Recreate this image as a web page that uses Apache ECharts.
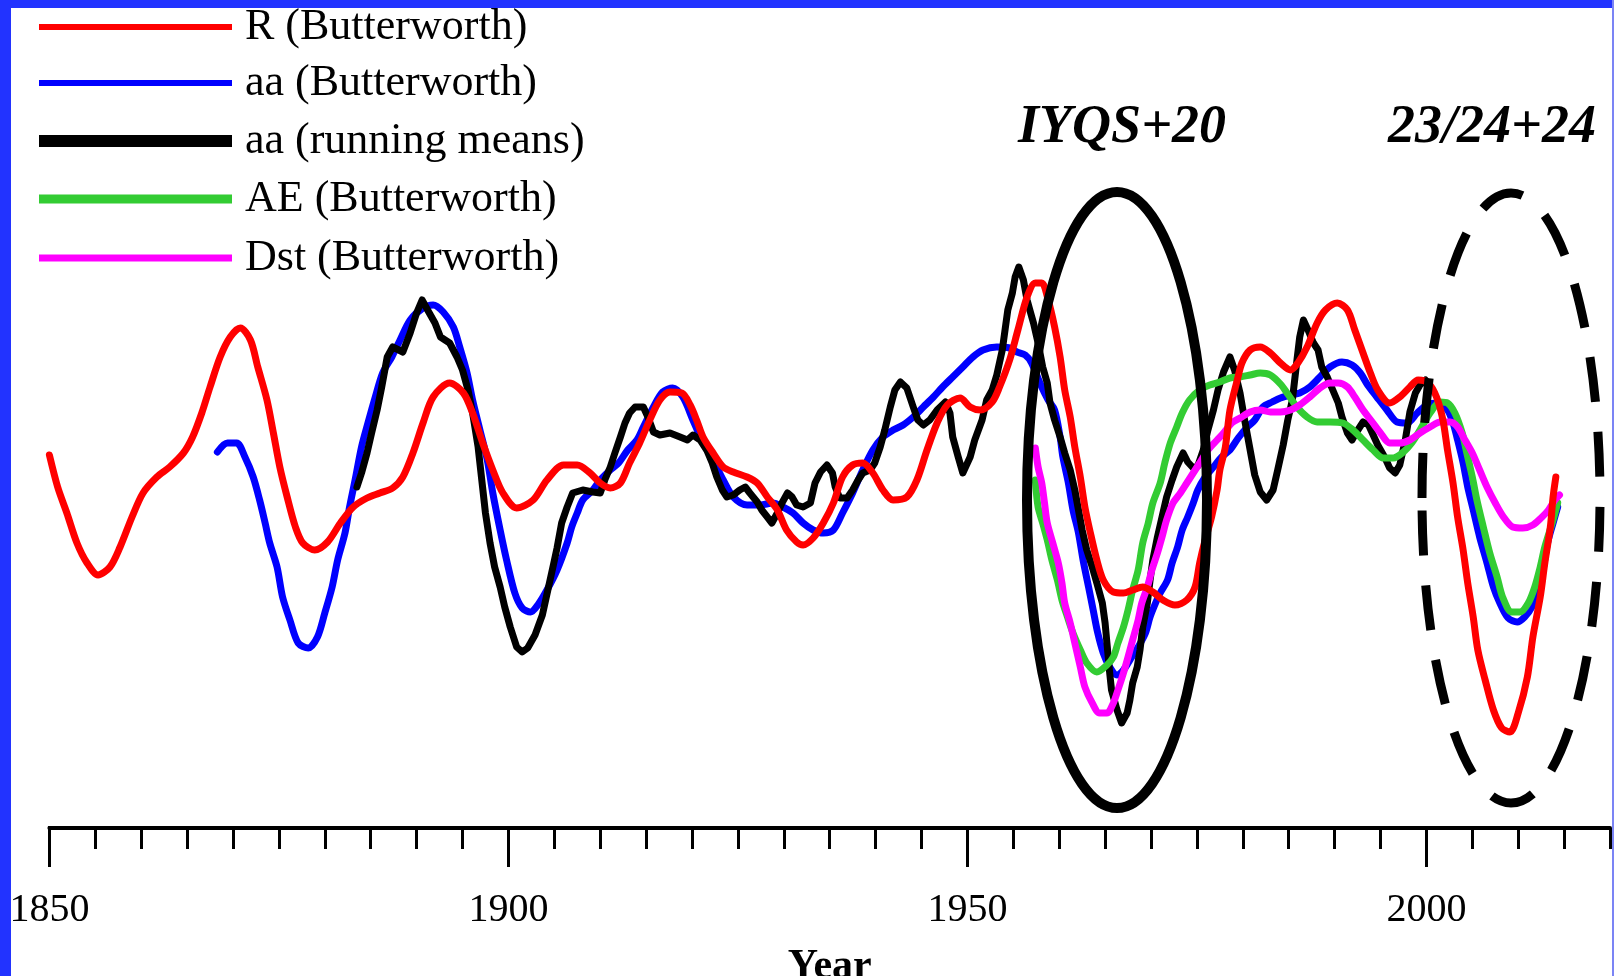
<!DOCTYPE html>
<html>
<head>
<meta charset="utf-8">
<script src="https://cdn.jsdelivr.net/npm/echarts@6/dist/echarts.min.js"></script>
<style>
html,body{margin:0;padding:0;background:#fff;}
#chart{width:1614px;height:976px;}
</style>
</head>
<body>
<div id="chart"></div>
<script>
// ---- Data: [year, value] (arbitrary normalized units) ----
const R_BUTTERWORTH = [
[1850.0,37.1],[1850.9,33.9],[1851.9,31.3],[1853.0,28.3],[1854.1,26.3],[1855.3,25.1],[1856.6,25.9],[1857.7,27.9],
[1859.0,30.9],[1860.2,33.3],[1861.7,34.9],[1863.1,35.9],[1864.6,37.3],[1865.6,38.9],[1866.6,41.3],[1867.5,43.9],
[1868.6,46.9],[1869.7,48.9],[1870.8,49.8],[1871.9,48.6],[1872.7,45.9],[1873.7,42.6],[1874.4,39.3],[1875.1,35.9],
[1875.9,32.9],[1876.8,29.9],[1877.6,28.3],[1878.9,27.6],[1880.3,28.4],[1881.7,30.3],[1883.1,31.9],[1884.6,32.8],
[1886.0,33.3],[1887.4,33.8],[1888.5,34.9],[1889.6,37.3],[1890.7,40.3],[1891.8,42.9],[1893.6,44.3],[1895.1,43.3],
[1896.1,41.3],[1897.2,38.3],[1898.3,35.6],[1899.4,33.3],[1900.9,31.8],[1902.7,32.6],[1904.2,34.6],[1906.0,36.1],
[1907.5,36.1],[1908.9,35.3],[1910.0,34.3],[1911.1,33.8],[1912.2,34.3],[1913.2,36.3],[1914.3,38.3],[1915.4,40.6],
[1916.5,42.6],[1917.6,43.4],[1918.9,43.3],[1919.8,42.1],[1920.5,40.6],[1921.2,38.9],[1922.3,37.3],[1923.4,35.9],
[1924.5,35.4],[1926.0,34.9],[1927.1,34.3],[1928.2,32.9],[1929.3,31.6],[1930.3,29.6],[1931.4,28.4],[1932.1,28.1],
[1933.2,28.8],[1934.3,30.3],[1935.4,32.3],[1936.4,34.9],[1937.5,36.1],[1938.6,36.3],[1939.7,35.3],[1940.8,33.6],
[1941.9,32.6],[1943.4,32.9],[1944.5,34.6],[1945.6,37.6],[1946.7,40.3],[1947.8,42.1],[1949.2,42.8],[1950.3,41.9],
[1951.4,41.6],[1952.7,42.4],[1953.5,43.9],[1954.6,46.6],[1955.5,49.6],[1956.5,52.9],[1957.4,54.3],[1958.1,54.3],
[1958.8,52.6],[1959.5,49.9],[1960.1,46.9],[1960.6,43.6],[1961.2,40.9],[1961.7,37.9],[1962.3,34.9],[1962.8,31.9],
[1963.4,29.3],[1964.1,26.6],[1964.8,24.6],[1965.9,23.4],[1967.0,23.3],[1968.0,23.6],[1969.1,23.9],[1970.2,23.4],
[1971.3,22.6],[1972.6,22.1],[1973.9,22.6],[1974.8,23.9],[1975.3,26.3],[1975.9,28.6],[1976.6,30.9],[1977.2,33.6],
[1977.5,35.6],[1978.1,37.9],[1978.6,41.6],[1979.4,44.6],[1979.9,46.3],[1980.8,47.6],[1981.9,47.9],[1983.0,47.3],
[1984.1,46.3],[1985.2,45.6],[1986.0,46.3],[1987.0,47.9],[1988.1,50.3],[1989.0,51.6],[1990.3,52.3],[1991.4,51.6],
[1992.2,49.6],[1993.1,47.3],[1993.9,45.3],[1994.7,43.6],[1996.0,42.3],[1997.1,42.9],[1998.2,43.9],[1999.1,44.6],
[2000.2,44.3],[2001.1,42.9],[2001.8,40.6],[2002.3,37.6],[2002.9,34.3],[2003.4,30.9],[2004.0,27.6],[2004.5,24.3],
[2005.1,20.9],[2005.6,17.6],[2006.4,14.6],[2007.3,11.6],[2008.2,9.8],[2009.1,9.4],[2010.0,11.3],[2011.0,14.9],
[2011.6,18.9],[2012.4,22.9],[2012.9,26.3],[2013.5,29.9],[2013.8,32.9],[2014.1,34.9]
];

const AA_BUTTERWORTH = [
[1868.3,37.4],[1869.4,38.3],[1870.4,38.3],[1871.3,36.9],[1872.2,34.9],[1872.9,32.6],[1873.5,30.3],[1874.0,28.3],
[1874.8,25.9],[1875.4,22.9],[1876.2,20.6],[1877.1,18.3],[1878.2,17.8],[1879.2,18.9],[1880.0,21.3],[1880.8,23.9],
[1881.4,26.6],[1882.2,29.3],[1882.7,31.9],[1883.3,34.6],[1884.0,37.9],[1884.7,40.3],[1885.5,42.9],[1886.3,45.3],
[1887.3,46.9],[1888.2,48.6],[1889.3,50.6],[1890.7,51.8],[1891.8,52.1],[1892.9,51.4],[1894.0,49.9],[1894.7,47.9],
[1895.5,45.3],[1896.1,42.6],[1896.9,39.6],[1897.7,36.6],[1898.3,33.3],[1899.1,29.6],[1899.8,26.6],[1900.7,23.3],
[1901.5,21.8],[1902.4,21.4],[1903.2,22.1],[1904.2,23.6],[1905.3,25.6],[1906.4,28.3],[1906.9,29.9],[1907.5,31.3],
[1908.1,32.6],[1909.2,33.6],[1910.0,34.6],[1911.1,35.6],[1912.0,36.3],[1913.0,37.6],[1914.0,38.6],[1914.7,39.9],
[1915.8,41.9],[1916.8,43.4],[1917.9,43.8],[1919.0,42.9],[1920.1,40.6],[1921.2,38.3],[1922.3,36.6],[1923.4,34.6],
[1924.5,32.9],[1926.0,32.1],[1927.4,32.1],[1928.8,32.3],[1929.9,31.9],[1931.0,31.3],[1932.1,30.3],[1933.2,29.6],
[1934.3,29.3],[1935.4,29.6],[1936.4,31.3],[1937.5,33.3],[1938.6,35.6],[1939.7,37.6],[1940.8,38.9],[1941.9,39.6],
[1943.0,40.1],[1944.1,40.9],[1945.2,41.9],[1946.3,42.9],[1947.3,43.9],[1948.4,44.9],[1949.5,45.9],[1950.6,46.9],
[1951.7,47.6],[1953.2,47.9],[1954.6,47.8],[1955.4,47.4],[1956.3,47.1],[1957.0,46.3],[1957.9,44.3],[1958.8,42.6],
[1959.5,41.6],[1960.1,38.9],[1960.4,36.9],[1961.0,34.3],[1961.5,31.6],[1962.1,29.3],[1962.6,26.6],[1963.2,23.9],
[1963.7,21.6],[1964.2,19.3],[1964.8,17.3],[1965.5,15.9],[1966.3,15.1],[1967.0,15.6],[1967.7,16.6],[1968.6,17.9],
[1969.4,19.3],[1969.9,20.9],[1970.5,22.3],[1971.0,23.3],[1971.8,24.6],[1972.3,26.3],[1972.9,27.9],[1973.4,29.6],
[1974.0,30.9],[1974.6,32.3],[1975.1,33.6],[1975.9,34.9],[1976.8,35.9],[1977.7,36.9],[1978.6,37.6],[1979.5,38.8],
[1980.5,39.9],[1981.3,40.6],[1982.2,41.9],[1983.2,42.4],[1984.1,42.8],[1985.2,43.1],[1986.2,43.3],[1987.3,43.9],
[1988.4,44.9],[1989.5,45.9],[1990.8,46.4],[1991.9,46.1],[1992.8,45.3],[1993.6,44.1],[1994.6,42.9],[1995.7,41.6],
[1996.8,40.4],[1997.9,40.3],[1999.0,41.3],[2000.1,42.1],[2001.2,42.3],[2002.3,41.6],[2002.9,40.3],[2003.4,38.6],
[2004.0,36.3],[2004.5,33.9],[2005.1,31.6],[2005.8,28.9],[2006.6,26.3],[2007.3,23.9],[2008.0,22.3],[2008.9,20.8],
[2009.9,20.4],[2010.7,20.9],[2011.5,21.9],[2012.2,23.6],[2012.7,25.6],[2013.2,28.3],[2013.8,30.3],[2014.3,31.9]
];

const AA_RUNNING_MEANS = [
[1883.5,33.9],[1884.0,35.3],[1884.6,37.3],[1885.1,39.3],[1885.7,41.6],[1886.2,43.9],[1886.8,46.9],[1887.4,47.9],
[1888.5,47.4],[1889.3,49.3],[1890.0,51.3],[1890.6,52.6],[1891.2,51.6],[1892.0,50.3],[1892.6,48.9],[1893.6,48.3],
[1894.4,46.9],[1895.0,45.6],[1895.6,43.6],[1896.1,41.3],[1896.7,37.9],[1897.1,34.6],[1897.5,31.3],[1898.0,28.3],
[1898.5,25.9],[1899.1,23.9],[1899.6,21.9],[1900.2,19.9],[1900.9,17.9],[1901.5,17.4],[1902.1,17.8],[1902.9,19.1],
[1903.7,21.1],[1904.3,23.6],[1904.9,26.1],[1905.3,27.8],[1905.8,30.3],[1906.4,31.9],[1907.0,33.3],[1908.1,33.6],
[1909.2,33.4],[1910.0,33.3],[1910.5,34.6],[1911.1,35.9],[1911.6,37.3],[1912.2,38.9],[1912.7,40.3],[1913.2,41.3],
[1913.8,41.9],[1914.7,41.9],[1915.2,40.9],[1915.8,39.4],[1916.5,39.1],[1917.6,39.3],[1918.7,38.9],[1919.5,38.6],
[1920.1,39.1],[1920.9,38.6],[1921.6,37.6],[1922.2,36.3],[1922.7,34.9],[1923.3,33.6],[1923.8,32.9],[1924.5,33.1],
[1925.2,33.6],[1925.8,33.9],[1926.3,33.3],[1927.1,32.4],[1927.6,31.6],[1928.2,30.9],[1928.7,30.3],[1929.3,31.3],
[1929.8,32.3],[1930.4,33.3],[1930.9,32.9],[1931.4,32.1],[1932.1,31.9],[1932.9,32.3],[1933.4,34.3],[1934.0,35.4],
[1934.7,36.1],[1935.3,35.3],[1935.6,33.9],[1936.1,32.8],[1936.9,32.8],[1937.5,33.6],[1938.1,34.6],[1938.6,35.3],
[1939.4,35.6],[1939.9,36.3],[1940.5,37.9],[1941.0,39.6],[1941.6,41.9],[1942.1,43.6],[1942.7,44.4],[1943.4,43.8],
[1944.1,41.9],[1944.6,40.6],[1945.2,40.1],[1945.9,40.6],[1946.7,41.6],[1947.6,42.4],[1948.1,41.3],[1948.4,38.9],
[1949.0,36.9],[1949.5,35.3],[1950.3,36.9],[1950.8,38.6],[1951.6,40.6],[1952.1,42.6],[1952.7,43.6],[1953.2,45.1],
[1953.8,47.6],[1954.1,49.6],[1954.4,51.6],[1954.9,53.3],[1955.2,54.9],[1955.6,55.9],[1956.1,54.6],[1956.5,52.6],
[1956.8,51.6],[1957.2,50.3],[1957.7,48.3],[1958.2,45.9],[1958.7,44.3],[1959.0,42.3],[1959.5,40.6],[1960.1,38.9],
[1960.6,37.3],[1961.2,35.6],[1961.7,33.6],[1962.1,31.6],[1962.5,29.6],[1963.0,27.6],[1963.6,25.9],[1964.1,24.3],
[1964.7,22.3],[1965.0,20.3],[1965.2,18.3],[1965.5,15.3],[1965.7,13.6],[1966.3,11.6],[1966.8,10.3],[1967.4,11.3],
[1967.7,12.6],[1968.0,14.3],[1968.5,15.9],[1968.8,17.6],[1969.1,19.9],[1969.6,22.3],[1969.9,24.6],[1970.2,26.6],
[1970.7,28.9],[1971.2,30.9],[1971.7,32.9],[1972.3,34.6],[1972.8,35.9],[1973.5,37.3],[1974.0,36.4],[1974.6,35.8],
[1975.1,36.0],[1975.7,37.6],[1976.2,39.6],[1976.8,41.6],[1977.3,43.6],[1977.9,45.4],[1978.6,46.9],[1979.1,45.6],
[1979.7,43.3],[1980.2,40.6],[1980.8,37.6],[1981.3,35.1],[1981.9,33.4],[1982.6,32.6],[1983.3,33.6],[1983.8,35.6],
[1984.4,38.1],[1984.9,40.6],[1985.4,42.6],[1985.9,46.6],[1986.2,48.9],[1986.6,50.6],[1987.1,49.6],[1987.7,48.3],
[1988.2,47.6],[1988.6,45.9],[1989.2,44.9],[1989.8,43.6],[1990.4,42.3],[1990.8,40.9],[1991.4,39.3],[1991.9,38.6],
[1992.4,39.4],[1993.1,40.4],[1993.7,40.1],[1994.2,39.1],[1994.7,38.1],[1995.5,36.8],[1996.0,35.8],[1996.6,35.3],
[1997.1,36.1],[1997.7,38.6],[1998.2,41.4],[1998.8,43.3],[1999.3,44.1],[1999.9,44.6]
];

const AE_BUTTERWORTH = [
[1957.4,34.6],[1957.7,31.9],[1958.2,30.3],[1958.7,28.6],[1959.2,26.6],[1959.8,24.6],[1960.3,22.6],[1960.9,20.9],
[1961.5,19.3],[1962.3,17.6],[1963.0,16.3],[1964.1,15.4],[1965.2,16.1],[1965.9,16.9],[1966.4,18.3],[1967.0,19.9],
[1967.5,21.6],[1968.0,23.6],[1968.6,25.6],[1969.1,28.3],[1969.7,30.3],[1970.2,32.3],[1971.0,34.3],[1971.5,36.3],
[1972.1,38.3],[1972.8,39.9],[1973.4,41.3],[1974.2,42.6],[1975.3,43.6],[1976.4,44.1],[1977.5,44.4],[1978.6,44.8],
[1979.7,44.9],[1980.8,45.1],[1981.9,45.3],[1983.0,45.1],[1984.1,44.2],[1984.9,43.2],[1985.9,41.9],[1987.0,40.9],
[1988.1,40.4],[1989.5,40.4],[1990.9,40.3],[1992.0,39.6],[1993.1,38.6],[1994.2,37.6],[1995.3,36.8],[1996.4,36.8],
[1997.5,37.4],[1998.4,38.3],[1999.3,39.6],[2000.4,41.3],[2001.5,42.4],[2002.3,42.3],[2003.1,41.3],[2003.9,39.3],
[2004.4,37.3],[2005.0,34.9],[2005.5,32.6],[2006.2,29.9],[2006.9,27.3],[2007.7,24.9],[2008.3,22.9],[2009.3,21.4],
[2010.2,21.4],[2011.1,22.3],[2011.8,23.9],[2012.4,25.9],[2012.9,27.9],[2013.7,30.3],[2014.3,32.3]
];

const DST_BUTTERWORTH = [
[1957.4,37.8],[1957.7,35.9],[1958.1,34.3],[1958.4,32.3],[1958.7,30.3],[1959.3,28.3],[1959.9,26.3],[1960.3,24.3],
[1960.6,22.3],[1961.2,20.3],[1961.7,18.3],[1962.3,15.9],[1962.8,13.9],[1963.6,12.3],[1964.4,11.3],[1965.2,11.3],
[1965.9,12.3],[1966.4,13.6],[1967.0,15.3],[1967.5,16.9],[1968.0,18.6],[1968.6,20.6],[1969.0,22.3],[1969.6,23.9],
[1970.1,25.6],[1970.7,27.3],[1971.2,28.9],[1971.7,30.6],[1972.4,32.3],[1973.2,33.3],[1973.9,34.3],[1974.6,35.3],
[1975.3,36.3],[1976.2,37.6],[1977.2,38.6],[1977.9,39.3],[1978.8,40.3],[1979.7,40.8],[1980.8,41.4],[1981.9,41.6],
[1983.0,41.4],[1984.1,41.4],[1985.2,41.6],[1986.2,42.1],[1987.3,42.9],[1988.4,43.8],[1989.5,44.3],[1990.4,44.3],
[1991.4,43.9],[1992.2,42.9],[1993.1,41.6],[1994.1,40.4],[1995.0,39.3],[1996.0,38.3],[1997.1,38.3],[1998.2,38.6],
[1999.3,39.3],[2000.4,39.9],[2001.5,40.4],[2002.6,40.4],[2003.4,39.9],[2004.2,38.6],[2005.0,37.3],[2005.8,35.6],
[2006.6,33.9],[2007.5,32.3],[2008.4,30.9],[2009.4,29.9],[2010.5,29.8],[2011.6,30.1],[2012.6,30.9],[2013.3,31.6],
[2014.0,32.6],[2014.5,33.1]
];

const MAJOR_TICKS = [1850, 1900, 1950, 2000];
const MINOR_TICKS = [1850,1855,1860,1865,1870,1875,1880,1885,1890,1895,1900,1905,1910,1915,1920,1925,1930,
  1935,1940,1945,1950,1955,1960,1965,1970,1975,1980,1985,1990,1995,2000,2005,2010,2015,2020];
const SERIES_NAMES = ['R (Butterworth)','aa (Butterworth)','aa (running means)','AE (Butterworth)','Dst (Butterworth)'];
const ANNOTATIONS = ['IYQS+20', '23/24+24'];

// ---- Chart ----
const chart = echarts.init(document.getElementById('chart'), null, {renderer:'canvas'});
const SERIF = '"Liberation Serif","Times New Roman",serif';

const legendRows = [
  {name: SERIES_NAMES[0], center: 27, h: 6},
  {name: SERIES_NAMES[1], center: 83, h: 6},
  {name: SERIES_NAMES[2], center: 141, h: 12},
  {name: SERIES_NAMES[3], center: 199, h: 9},
  {name: SERIES_NAMES[4], center: 258, h: 7}
];

const legends = legendRows.map(r => ({
  left: 39, top: r.center - 22, padding: 0, orient: 'vertical',
  icon: 'rect', itemWidth: 193, itemHeight: r.h, selectedMode: false,
  data: [r.name],
  textStyle: {color: '#000', fontFamily: SERIF, fontSize: 44, lineHeight: 44, padding: [0,0,0,8]}
}));

function lineSeries(name, data, color, smooth, z, width) {
  return {
    name, type: 'line', data, symbol: 'none', smooth, z,
    color, lineStyle: {color, width, cap: 'round', join: 'round'},
    emphasis: {disabled: true}, animation: false
  };
}

chart.setOption({
  backgroundColor: '#ffffff',
  animation: false,
  legend: legends,
  grid: {left: 49.4, right: 4, top: 28, bottom: 148, containLabel: false, outerBoundsMode: 'none'},
  xAxis: [{
    type: 'value', min: 1850, max: 2020,
    name: 'Year', nameLocation: 'middle', nameGap: 118,
    nameTextStyle: {fontFamily: SERIF, fontSize: 42, fontWeight: 'bold', color: '#000'},
    axisLine: {show: true, onZero: false, lineStyle: {color: '#000', width: 4}},
    axisTick: {show: true, customValues: MINOR_TICKS, length: 21, lineStyle: {color: '#000', width: 3}},
    axisLabel: {show: true, customValues: MAJOR_TICKS, margin: 62, fontFamily: SERIF, fontSize: 40, color: '#000',
      formatter: v => String(v)},
    splitLine: {show: false}
  }, {
    type: 'value', min: 1850, max: 2020, position: 'bottom', offset: 0,
    axisLine: {show: false},
    axisTick: {show: true, customValues: MAJOR_TICKS, length: 41, lineStyle: {color: '#000', width: 3}},
    axisLabel: {show: false},
    splitLine: {show: false}
  }],
  yAxis: {type: 'value', min: -0.2, max: 79.8, show: false, splitLine: {show: false}},
  series: [
    lineSeries(SERIES_NAMES[1], AA_BUTTERWORTH, '#0000ff', 0.3, 2, 7),
    lineSeries(SERIES_NAMES[2], AA_RUNNING_MEANS, '#000000', false, 3, 7),
    lineSeries(SERIES_NAMES[3], AE_BUTTERWORTH, '#33cc33', 0.3, 4, 7),
    lineSeries(SERIES_NAMES[4], DST_BUTTERWORTH, '#ff00ff', 0.3, 5, 7),
    lineSeries(SERIES_NAMES[0], R_BUTTERWORTH, '#ff0000', 0.3, 6, 7)
  ],
  graphic: [
    {type: 'rect', z: 200, shape: {x: 0, y: 0, width: 11, height: 976}, style: {fill: '#2233ff'}},
    {type: 'rect', z: 200, shape: {x: 0, y: 0, width: 1614, height: 8}, style: {fill: '#2233ff'}},
    {type: 'rect', z: 200, shape: {x: 1612, y: 0, width: 2, height: 976}, style: {fill: '#7b84f5'}},
    {type: 'ellipse', z: 100, shape: {cx: 1117, cy: 500, rx: 90, ry: 308},
      style: {fill: null, stroke: '#000', lineWidth: 10}},
    {type: 'ellipse', z: 100, shape: {cx: 1511, cy: 498, rx: 89, ry: 305},
      style: {fill: null, stroke: '#000', lineWidth: 9, lineDash: [45, 30]}},
    {type: 'text', z: 100, style: {x: 1122, y: 128, text: ANNOTATIONS[0], fill: '#000',
      font: 'italic bold 54px ' + SERIF, textAlign: 'center', textVerticalAlign: 'middle'}},
    {type: 'text', z: 100, style: {x: 1492, y: 128, text: ANNOTATIONS[1], fill: '#000',
      font: 'italic bold 54px ' + SERIF, textAlign: 'center', textVerticalAlign: 'middle'}}
  ]
});
</script>
</body>
</html>
